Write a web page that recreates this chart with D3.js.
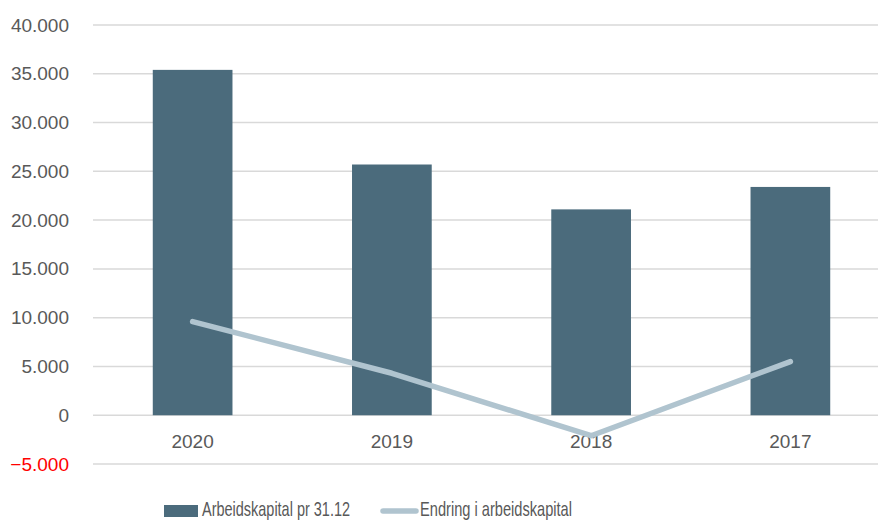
<!DOCTYPE html>
<html>
<head>
<meta charset="utf-8">
<script src="https://d3js.org/d3.v7.min.js"></script>
<style>
  body { margin: 0; background: #fff; }
  svg text { font-family: "Liberation Sans", Arial, sans-serif; fill: #595959; }
</style>
</head>
<body>
<div id="chart"></div>
<script>
// data
var years = ["2020", "2019", "2018", "2017"];
var arbeidskapital = [35400, 25700, 21100, 23400];
var endring = [9600, 4300, -2100, 5500];
var yTicks = [-5000, 0, 5000, 10000, 15000, 20000, 25000, 30000, 35000, 40000];
var seriesNames = ["Arbeidskapital pr 31.12", "Endring i arbeidskapital"];

var width = 878, height = 520;
var barColor = "#4b6b7c", lineColor = "#b0c4cf";

var svg = d3.select("#chart").append("svg")
  .attr("width", width)
  .attr("height", height);

var x = d3.scaleBand()
  .domain(years)
  .range([93, 890])
  .paddingInner(0.6)
  .paddingOuter(0.3);

var y = d3.scaleLinear()
  .domain([-5000, 40000])
  .range([464, 25]);

var fmt = function(v) {
  return d3.format(",")(v).replace(/,/g, ".");
};

// gridlines
svg.append("g")
  .selectAll("line")
  .data(yTicks)
  .enter().append("line")
  .attr("x1", 93)
  .attr("x2", width)
  .attr("y1", function(d) { return y(d); })
  .attr("y2", function(d) { return y(d); })
  .attr("stroke", "#d9d9d9")
  .attr("stroke-width", 1.5);

// y labels
svg.append("g")
  .selectAll("text")
  .data(yTicks)
  .enter().append("text")
  .attr("x", 69)
  .attr("y", function(d) { return y(d) + 6.5; })
  .attr("text-anchor", "end")
  .style("font-size", "19px")
  .style("fill", function(d) { return d < 0 ? "#ff0000" : "#595959"; })
  .text(fmt);

// bars
svg.append("g")
  .selectAll("rect")
  .data(arbeidskapital)
  .enter().append("rect")
  .attr("x", function(d, i) { return x(years[i]); })
  .attr("y", function(d) { return y(d); })
  .attr("width", x.bandwidth())
  .attr("height", function(d) { return y(0) - y(d); })
  .attr("fill", barColor);

// x labels
svg.append("g")
  .selectAll("text")
  .data(years)
  .enter().append("text")
  .attr("x", function(d) { return x(d) + x.bandwidth() / 2; })
  .attr("y", 448)
  .attr("text-anchor", "middle")
  .style("font-size", "19px")
  .text(function(d) { return d; });

// line
var line = d3.line()
  .x(function(d, i) { return x(years[i]) + x.bandwidth() / 2; })
  .y(function(d) { return y(d); });

svg.append("path")
  .datum(endring)
  .attr("d", line)
  .attr("fill", "none")
  .attr("stroke", lineColor)
  .attr("stroke-width", 5.5)
  .attr("stroke-linecap", "round")
  .attr("stroke-linejoin", "round");

// legend
var legend = svg.append("g");
legend.append("rect")
  .attr("x", 164).attr("y", 505)
  .attr("width", 34).attr("height", 12)
  .attr("fill", barColor);
legend.append("text")
  .attr("x", 202).attr("y", 516)
  .attr("textLength", 148)
  .attr("lengthAdjust", "spacingAndGlyphs")
  .style("font-size", "21px")
  .text(seriesNames[0]);
legend.append("line")
  .attr("x1", 383).attr("x2", 416)
  .attr("y1", 511).attr("y2", 511)
  .attr("stroke", lineColor)
  .attr("stroke-width", 5.5)
  .attr("stroke-linecap", "round");
legend.append("text")
  .attr("x", 420).attr("y", 516)
  .attr("textLength", 152)
  .attr("lengthAdjust", "spacingAndGlyphs")
  .style("font-size", "21px")
  .text(seriesNames[1]);
</script>
</body>
</html>
